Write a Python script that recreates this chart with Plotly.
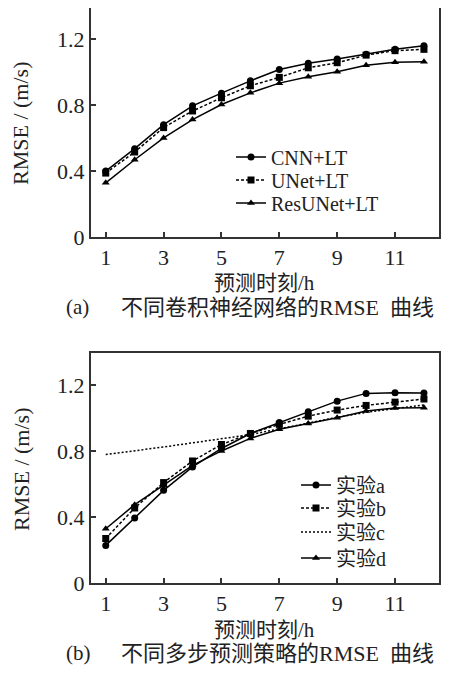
import plotly.graph_objects as go

hours = list(range(1, 13))
x_ticks = [1, 3, 5, 7, 9, 11]
y_ticks = [0, 0.4, 0.8, 1.2]
y_tick_labels = ["0", "0.4", "0.8", "1.2"]

cnn_lt = [0.40, 0.536, 0.682, 0.796, 0.873, 0.948, 1.017, 1.054, 1.080, 1.110, 1.139, 1.161]
unet_lt = [0.388, 0.516, 0.664, 0.765, 0.845, 0.918, 0.969, 1.027, 1.058, 1.104, 1.131, 1.139]
resunet_lt = [0.329, 0.469, 0.601, 0.713, 0.804, 0.875, 0.934, 0.972, 1.003, 1.042, 1.060, 1.064]

exp_a = [0.228, 0.394, 0.562, 0.704, 0.816, 0.907, 0.974, 1.038, 1.103, 1.150, 1.154, 1.152]
exp_b = [0.27, 0.455, 0.609, 0.740, 0.840, 0.907, 0.962, 1.012, 1.049, 1.077, 1.097, 1.116]
exp_c = [0.779, 0.80, 0.825, 0.85, 0.875, 0.90, 0.935, 0.97, 1.005, 1.035, 1.058, 1.08]
exp_d = [0.329, 0.475, 0.593, 0.714, 0.801, 0.877, 0.933, 0.968, 1.002, 1.043, 1.061, 1.063]

FONT = "Liberation Serif, 'Noto Sans CJK SC', serif"
BLACK = "#000000"
TXT = "#222222"

# the page body keeps an 8px margin, so the figure is 8px smaller than the window
# and every layout position below is given in window pixels, shifted by OFF
W, H = 442, 669
OFF = 8

fig = go.Figure()

def add(x, y, name, dash, symbol, xa, ya, legend):
    mode = "lines+markers" if symbol else "lines"
    fig.add_trace(go.Scatter(
        x=x, y=y, name=name, mode=mode, xaxis=xa, yaxis=ya, legend=legend,
        line=dict(color=BLACK, width=1.5, dash=dash),
        marker=dict(symbol=symbol or "circle", size=7, color=BLACK),
    ))

add(hours, cnn_lt, "CNN+LT", "solid", "circle", "x", "y", "legend")
add(hours, unet_lt, "UNet+LT", "3px,2px", "square", "x", "y", "legend2")
add(hours, resunet_lt, "ResUNet+LT", "solid", "triangle-up", "x", "y", "legend3")

add(hours, exp_a, "实验a", "solid", "circle", "x2", "y2", "legend4")
add(hours, exp_b, "实验b", "3px,2px", "square", "x2", "y2", "legend5")
add(hours, exp_c, "实验c", "2px,2px", None, "x2", "y2", "legend6")
add(hours, exp_d, "实验d", "solid", "triangle-up", "x2", "y2", "legend7")

def px_x(v):
    return min(1.0, max(0.0, (v - OFF) / W))

def px_y(v):
    return min(1.0, max(0.0, 1 - (v - OFF) / H))

xdom = [px_x(91), px_x(439)]
ydom1 = [px_y(237), px_y(8)]
ydom2 = [px_y(583), px_y(353)]

def xaxis(anchor):
    return dict(
        domain=xdom, anchor=anchor, range=[0.49, 12.52], automargin=False,
        tickvals=x_ticks, ticktext=[str(v) for v in x_ticks],
        ticks="inside", ticklen=5, tickwidth=1.5, tickcolor="#333",
        showline=True, linecolor="#333", linewidth=2, mirror=True,
        showgrid=False, zeroline=False,
        tickfont=dict(family=FONT, size=22, color=TXT),
    )

def yaxis(anchor, dom, top):
    return dict(
        domain=dom, anchor=anchor, range=[0, top], automargin=False,
        tickvals=y_ticks, ticktext=y_tick_labels,
        ticks="inside", ticklen=5, tickwidth=1.5, tickcolor="#333",
        showline=True, linecolor="#333", linewidth=2, mirror=True,
        showgrid=False, zeroline=False,
        tickfont=dict(family=FONT, size=22, color=TXT),
    )

def legend_at(x_px, yc_px):
    return dict(
        x=px_x(x_px - 6), y=px_y(yc_px + 2), xanchor="left", yanchor="middle",
        font=dict(family=FONT, size=20, color=TXT),
        bgcolor="rgba(0,0,0,0)", borderwidth=0, itemwidth=30,
    )

def ann(text, x_px, y_px, size, xanchor="left", angle=0):
    return dict(text=text, x=px_x(x_px), y=px_y(y_px), xref="paper", yref="paper",
                xanchor=xanchor, yanchor="middle", showarrow=False, textangle=angle,
                font=dict(family=FONT, size=size, color=TXT))

NB = "\u00a0"

fig.update_layout(
    width=W, height=H,
    margin=dict(l=0, r=0, t=0, b=0),
    paper_bgcolor="white", plot_bgcolor="white",
    xaxis=xaxis("y"), yaxis=yaxis("x", ydom1, 1.39),
    xaxis2=xaxis("y2"), yaxis2=yaxis("x2", ydom2, 1.395),
    legend=legend_at(237, 155),
    legend2=legend_at(237, 178),
    legend3=legend_at(237, 201),
    legend4=legend_at(302, 483),
    legend5=legend_at(302, 506),
    legend6=legend_at(302, 530),
    legend7=legend_at(302, 556),
    showlegend=True,
    annotations=[
        ann("RMSE / (m/s)", 21, 124, 22, xanchor="center", angle=-90),
        ann("RMSE / (m/s)", 21, 470, 22, xanchor="center", angle=-90),
        ann("预测时刻/h", 264, 283, 21, xanchor="center"),
        ann("预测时刻/h", 264, 630, 21, xanchor="center"),
        ann("(a)", 64, 307, 21),
        ann("不同卷积神经网络的RMSE" + NB * 2 + "曲线", 119, 307, 22),
        ann("(b)", 64, 653, 21),
        ann("不同多步预测策略的RMSE" + NB * 2 + "曲线", 119, 653, 22),
    ],
)

fig.write_html("out.html")
